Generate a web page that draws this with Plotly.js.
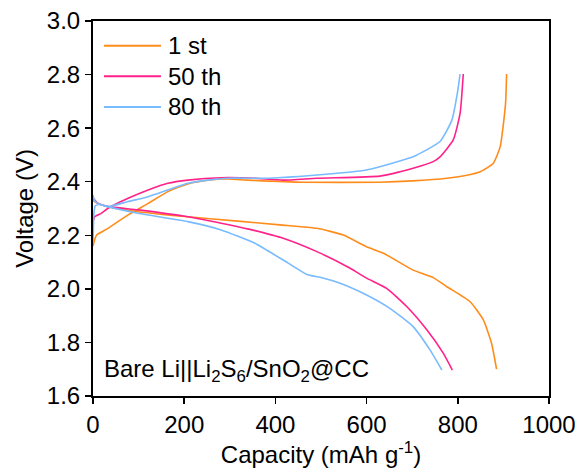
<!DOCTYPE html>
<html>
<head>
<meta charset="utf-8">
<script src="https://cdn.plot.ly/plotly-3.0.1.min.js"></script>
<style>html,body{margin:0;padding:0;background:#fff;}#chart{width:577px;height:468px;}</style>
</head>
<body>
<div id="chart"></div>
<script>
// Cycle labels
const seriesNames = ["1 st", "50 th", "80 th"];

// 1st cycle
const c1DisX = [0, 10, 33, 99, 208, 318, 410, 491, 549, 600, 637, 702, 746, 776, 827, 856, 874, 885];
const c1DisY = [2.33, 2.32, 2.307, 2.288, 2.269, 2.253, 2.239, 2.226, 2.201, 2.157, 2.133, 2.070, 2.042, 2.008, 1.952, 1.884, 1.797, 1.70];
const c1ChgX = [0, 4, 8, 33, 77, 121, 164, 208, 252, 296, 340, 461, 629, 700, 776, 820, 849, 878, 893, 901, 905, 907];
const c1ChgY = [2.16, 2.185, 2.201, 2.226, 2.276, 2.319, 2.363, 2.392, 2.406, 2.410, 2.406, 2.398, 2.398, 2.403, 2.413, 2.424, 2.437, 2.469, 2.531, 2.630, 2.70, 2.802];

// 50th cycle
const c50DisX = [0, 10, 33, 99, 208, 318, 344, 417, 491, 564, 600, 644, 688, 732, 768, 788];
const c50DisY = [2.34, 2.32, 2.307, 2.295, 2.269, 2.232, 2.222, 2.189, 2.139, 2.077, 2.040, 2.002, 1.934, 1.847, 1.760, 1.697];
const c50ChgX = [0, 4, 18, 33, 77, 121, 164, 208, 281, 355, 417, 491, 629, 673, 702, 746, 761, 790, 805, 812];
const c50ChgY = [2.25, 2.27, 2.282, 2.301, 2.338, 2.369, 2.394, 2.406, 2.415, 2.413, 2.406, 2.413, 2.421, 2.437, 2.450, 2.475, 2.493, 2.556, 2.655, 2.802];

// 80th cycle
const c80DisX = [0, 3, 10, 33, 99, 208, 281, 355, 428, 469, 498, 542, 600, 651, 702, 739, 765];
const c80DisY = [2.35, 2.33, 2.32, 2.307, 2.282, 2.251, 2.220, 2.170, 2.096, 2.054, 2.043, 2.021, 1.977, 1.927, 1.859, 1.772, 1.697];
const c80ChgX = [0, 2, 5, 15, 33, 77, 121, 164, 208, 252, 296, 384, 491, 600, 629, 680, 702, 761, 787, 799, 805];
const c80ChgY = [2.17, 2.28, 2.31, 2.315, 2.307, 2.326, 2.344, 2.369, 2.394, 2.406, 2.413, 2.413, 2.425, 2.444, 2.456, 2.481, 2.493, 2.550, 2.630, 2.730, 2.802];

const colors = ["#FF8C1A", "#FF2189", "#78BBFF"];
const xTicks = [0, 200, 400, 600, 800, 1000];
const yTicks = [1.6, 1.8, 2.0, 2.2, 2.4, 2.6, 2.8, 3.0];

const cycles = [
  [c1DisX, c1DisY, c1ChgX, c1ChgY],
  [c50DisX, c50DisY, c50ChgX, c50ChgY],
  [c80DisX, c80DisY, c80ChgX, c80ChgY]
];

const FONT = "Liberation Sans, Arial, sans-serif";
const FS = 24;
const traces = cycles.map((c, i) => ({
  type: "scatter",
  mode: "lines",
  name: seriesNames[i],
  x: c[0].concat([null], c[2]),
  y: c[1].concat([null], c[3]),
  connectgaps: false,
  line: {color: colors[i], width: 1.6, shape: "spline", smoothing: 0.5}
}));

const axisCommon = {
  showline: true, linecolor: "#000", linewidth: 2, mirror: true,
  ticks: "outside", ticklen: 6, tickwidth: 1.5, tickcolor: "#000",
  showgrid: false, zeroline: false, automargin: false,
  tickfont: {family: FONT, size: FS, color: "#000"}
};

// Legend drawn in paper coordinates (swatch lines + labels)
const legTop = 0.934, legStep = 0.0815;
const legendShapes = seriesNames.map((n, i) => ({
  type: "line", xref: "paper", yref: "paper",
  x0: 0.024, x1: 0.149, y0: legTop - i * legStep, y1: legTop - i * legStep,
  line: {color: colors[i], width: 2}
}));
const legendLabels = seriesNames.map((n, i) => ({
  xref: "paper", yref: "paper", x: 0.161, y: legTop - i * legStep,
  xanchor: "left", yanchor: "middle", text: n, showarrow: false,
  font: {family: FONT, size: FS, color: "#000"}
}));

const layout = {
  width: 577, height: 468,
  margin: {l: 93, r: 28, t: 21, b: 72},
  paper_bgcolor: "#fff", plot_bgcolor: "#fff",
  font: {family: FONT, color: "#000"},
  showlegend: false,
  xaxis: Object.assign({}, axisCommon, {
    range: [0, 1000], tickvals: xTicks, ticktext: xTicks.map(String),
    title: {text: "Capacity (mAh g<sup>-1</sup>)", font: {family: FONT, size: FS, color: "#000"}, standoff: 2}
  }),
  yaxis: Object.assign({}, axisCommon, {
    range: [1.6, 3.0], tickvals: yTicks, ticktext: yTicks.map(v => v.toFixed(1)),
    title: {text: "Voltage (V)", font: {family: FONT, size: FS, color: "#000"}, standoff: 6}
  }),
  shapes: legendShapes,
  annotations: legendLabels.concat([{
    xref: "paper", yref: "paper", x: 0.02, y: 0.068, xanchor: "left", yanchor: "middle",
    text: "Bare Li||Li<sub>2</sub>S<sub>6</sub>/SnO<sub>2</sub>@CC", showarrow: false,
    font: {family: FONT, size: FS, color: "#000"}
  }])
};

Plotly.newPlot("chart", traces, layout, {staticPlot: true, displayModeBar: false});
</script>
</body>
</html>
